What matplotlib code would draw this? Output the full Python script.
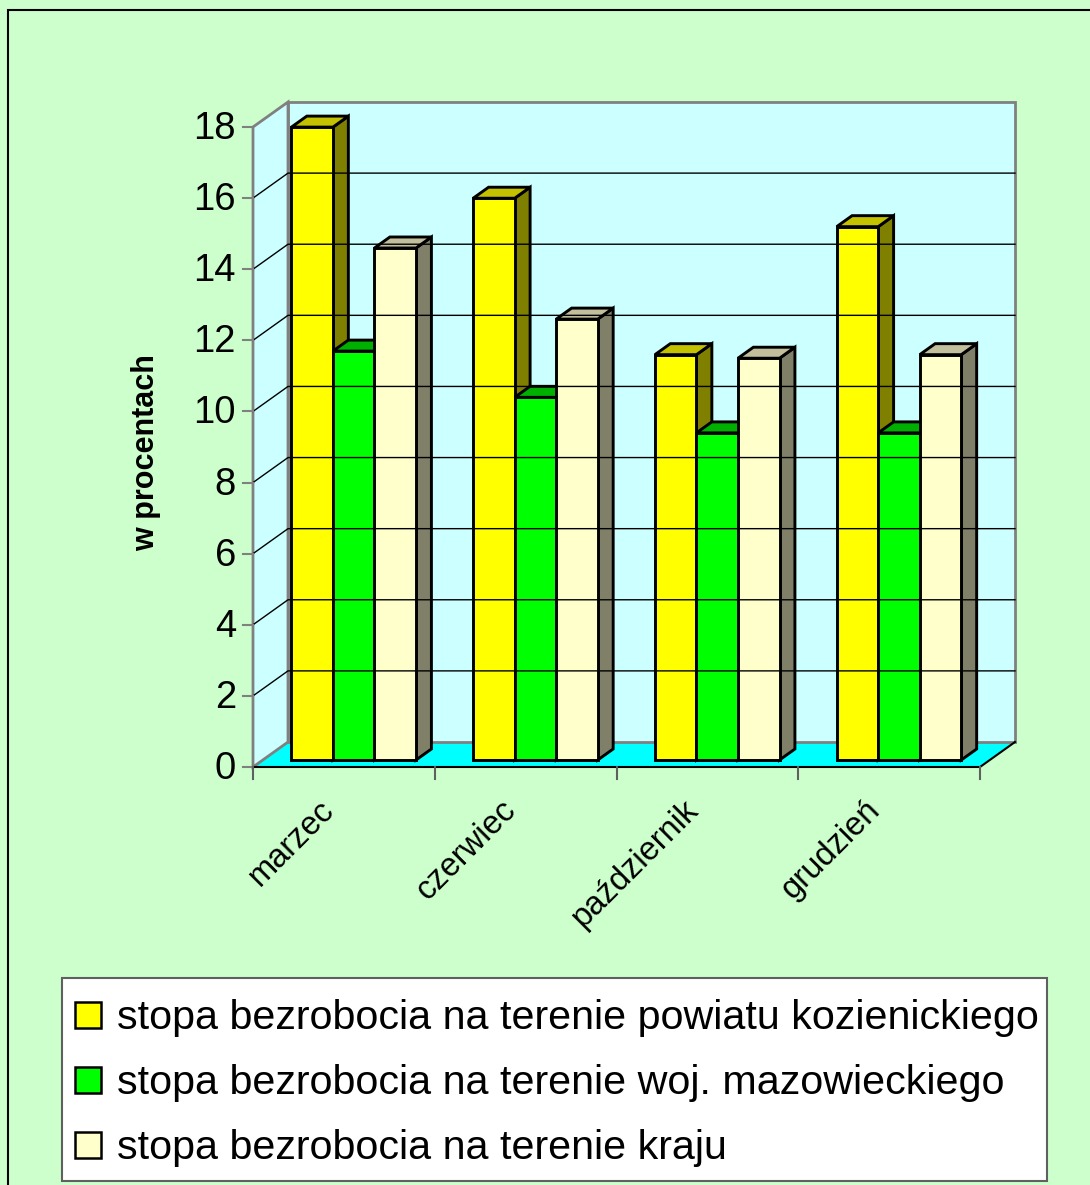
import matplotlib
matplotlib.use('Agg')
import matplotlib.pyplot as plt
from matplotlib.patches import Polygon, Rectangle

plt.rcParams['font.family'] = ['Liberation Sans', 'DejaVu Sans']

# --- data ---
months = ['marzec', 'czerwiec', 'październik', 'grudzień']
powiat = [17.8, 15.8, 11.4, 15.0]
mazowsze = [11.5, 10.2, 9.2, 9.2]
kraj = [14.4, 12.4, 11.3, 11.4]
series_labels = ['stopa bezrobocia na terenie powiatu kozienickiego',
                 'stopa bezrobocia na terenie woj. mazowieckiego',
                 'stopa bezrobocia na terenie kraju']
yticks = [0, 2, 4, 6, 8, 10, 12, 14, 16, 18]
ylabel = 'w procentach'

# face / top / side colours per series
colors = [('#FFFF00', '#C4C200', '#808000'),
          ('#00FF00', '#00B000', '#008000'),
          ('#FFFFCC', '#C2C09C', '#808068')]

# --- layout, in pixels of the 1090x1185 canvas ---
W, H = 1090, 1185
X0, Y0 = 253, 767          # pixel of (first category edge, 0 %) on the front plane
CAT_PX = 181.75            # px per category
VAL_PX = 640 / 18          # px per percent
DX, DY = 35 / CAT_PX, 25 / VAL_PX   # wall depth in data units
GAP, BW = 0.315, 0.2285    # gap between groups, bar width (category units)
Z0, Z1 = 0.28, 0.72        # bar depth range (fraction of wall depth)
YMAX = yticks[-1]


def px(x, y):
    """pixel -> data coordinates"""
    return (x - X0) / CAT_PX, (Y0 - y) / VAL_PX


def d(x, y, z):
    """project a point at depth z (0 front .. 1 back wall)"""
    return x + z * DX, y + z * DY


def bar(ax, x, w, h, cols):
    face, top, side = cols
    kw = dict(ec='black', lw=2.1, joinstyle='miter')
    ax.add_patch(Polygon([d(x + w, 0, Z0), d(x + w, 0, Z1), d(x + w, h, Z1), d(x + w, h, Z0)], fc=side, **kw))
    ax.add_patch(Polygon([d(x, h, Z0), d(x + w, h, Z0), d(x + w, h, Z1), d(x, h, Z1)], fc=top, **kw))
    ax.add_patch(Polygon([d(x, 0, Z0), d(x + w, 0, Z0), d(x + w, h, Z0), d(x, h, Z0)], fc=face, **kw))


fig = plt.figure(figsize=(W / 100, H / 100), dpi=100, facecolor='#CCFFCC')
ax = fig.add_axes([0, 0, 1, 1])
ax.set_xlim(px(0, 0)[0], px(W, 0)[0])
ax.set_ylim(px(0, H)[1], px(0, 0)[1])
ax.axis('off')

n = len(months)
# floor and walls
ax.add_patch(Polygon([d(0, 0, 0), d(n, 0, 0), d(n, 0, 1), d(0, 0, 1)], fc='#00FFFF', ec='none'))
ax.add_patch(Polygon([d(0, 0, 1), d(n, 0, 1), d(n, YMAX, 1), d(0, YMAX, 1)],
                     fc='#CCFFFF', ec='#808080', lw=2))
ax.add_patch(Polygon([d(0, 0, 0), d(0, 0, 1), d(0, YMAX, 1), d(0, YMAX, 0)],
                     fc='#CCFFFF', ec='#808080', lw=2))
fx, fy = zip(d(0, 0, 0), d(n, 0, 0), d(n, 0, 1))
ax.plot(fx, fy, color='black', lw=1.5)

# gridlines on side + back wall
for v in yticks[1:-1]:
    gx, gy = zip(d(0, v, 0), d(0, v, 1), d(n, v, 1))
    ax.plot(gx, gy, color='black', lw=1.0)

# y ticks and labels
tick_dx = 10 / CAT_PX
for v in yticks:
    ax.plot([-tick_dx, 0], [v, v], color='#808080', lw=1.5)
    ax.text(-17 / CAT_PX, v - 2 / VAL_PX, str(v), ha='right', va='center', fontsize=27.5)

# category ticks
for i in range(n + 1):
    ax.plot([i, i], [0, -12 / VAL_PX], color='#606060', lw=1.5)

# bars
for i in range(n):
    for k, vals in enumerate([powiat, mazowsze, kraj]):
        bar(ax, i + GAP / 2 + k * BW, BW, vals[i], colors[k])

# category labels
for i, m in enumerate(months):
    ax.text(i + 0.5 - 25 / CAT_PX, -27 / VAL_PX, m, rotation=45, rotation_mode='anchor',
            ha='right', va='top', fontsize=23.5)

ax.text(*px(146, 453), ylabel, rotation=90, ha='center', va='center',
        fontsize=22, fontweight='bold')

# legend
lx0, ly0 = px(62, 1181)
lx1, ly1 = px(1047, 978)
ax.add_patch(Rectangle((lx0, ly0), lx1 - lx0, ly1 - ly0, fc='white', ec='#606060', lw=1.5))
sq_w, sq_h = 26 / CAT_PX, 26 / VAL_PX
for k, (lab, ypix) in enumerate(zip(series_labels, [1015, 1080, 1145])):
    sx, sy = px(75, ypix)
    ax.add_patch(Rectangle((sx, sy - sq_h / 2), sq_w, sq_h, fc=colors[k][0], ec='black', lw=1.8))
    ax.text(px(117, 0)[0], px(0, ypix + 3)[1], lab, ha='left', va='center', fontsize=29.7)

# outer chart border
bx, by = px(8, H + 20)
bx1, by1 = px(W + 20, 10)
ax.add_patch(Rectangle((bx, by), bx1 - bx, by1 - by, fc='none', ec='black', lw=1.5, clip_on=False))

fig.savefig('out.png', dpi=100, facecolor=fig.get_facecolor())
